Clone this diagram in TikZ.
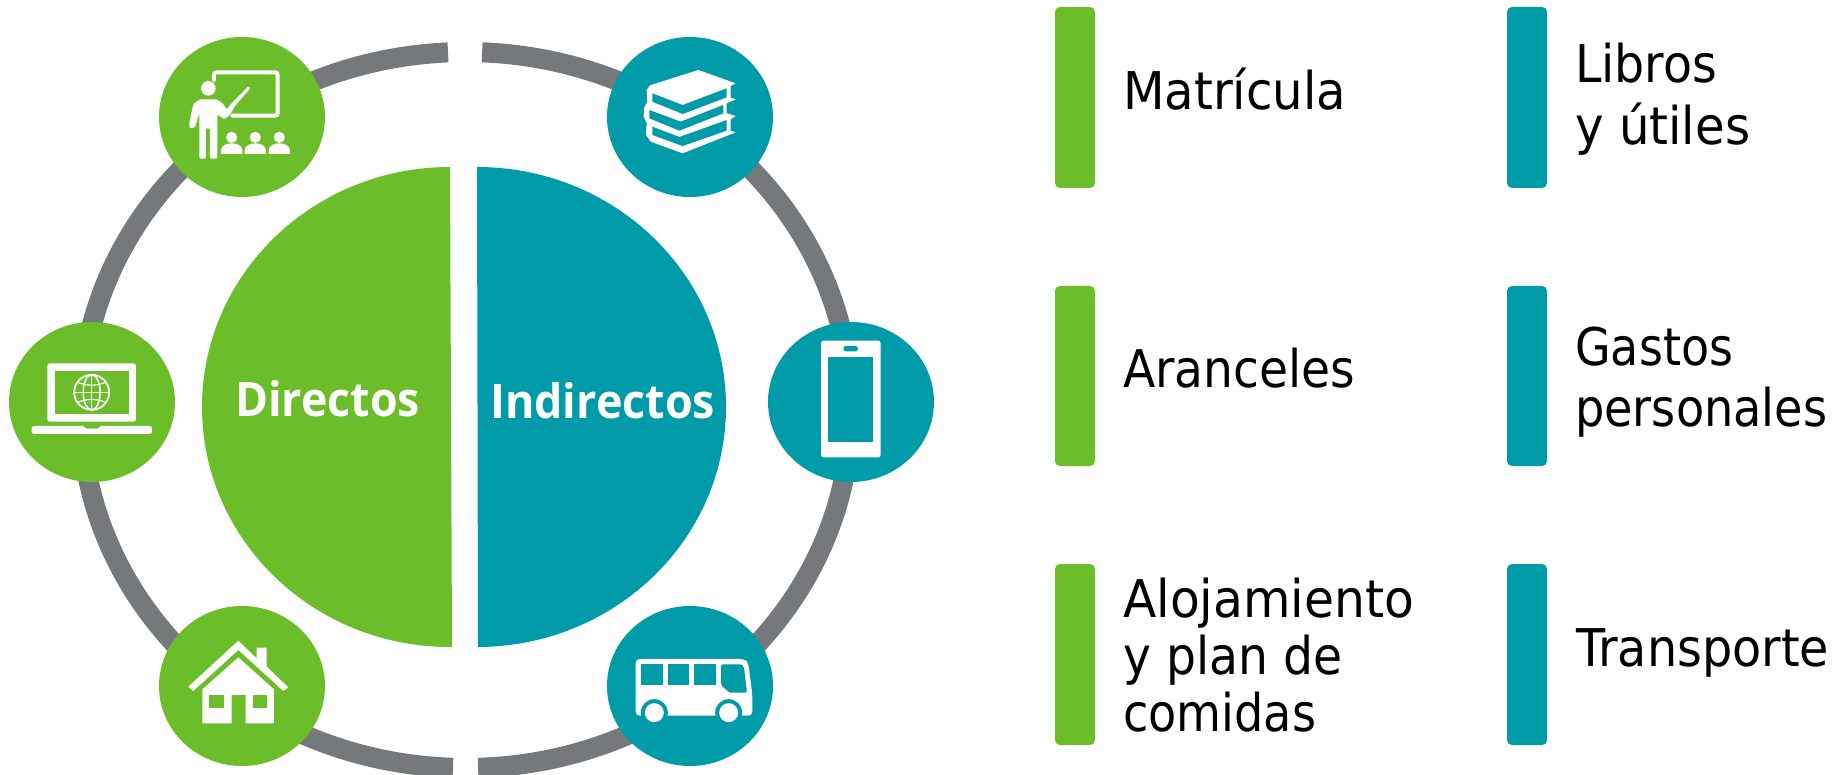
\documentclass[tikz,border=0pt]{standalone}
\usepackage{graphicx}
\usepackage{fontspec}
\setmainfont{DejaVu Sans}
\newfontfamily\headfont{Open Sans}
\definecolor{brandgreen}{RGB}{107,189,41}
\definecolor{brandteal}{RGB}{0,155,168}
\definecolor{ringgray}{RGB}{117,121,123}
\newcommand{\fitw}[2]{\resizebox{#1pt}{\height}{#2}}
\tikzset{
  ringarc/.style={draw=ringgray,line width=20pt},
  greendisc/.style={fill=brandgreen},
  tealdisc/.style={fill=brandteal},
  legendbar/.style={rounded corners=5pt},
  legendtext/.style={anchor=base west,inner sep=0pt,align=left,text=black,
    font=\fontsize{52}{62}\selectfont},
  headtext/.style={anchor=base west,inner sep=0pt,text=white,
    font=\headfont\bfseries\fontsize{47.5}{55}\selectfont},
  iconlayer/.style={x=0.33333pt,y=-0.33333pt}
}
\begin{document}
\begin{tikzpicture}[x=1pt,y=-1pt]
\clip (0,0) rectangle (1842,775);
\fill[white] (0,0) rectangle (1842,775);

% ring
\coordinate (rc) at (466,410);
\draw[ringarc] (rc) ++(92.68:385pt and 358pt) arc[start angle=92.68,end angle=268.06,x radius=385pt,y radius=358pt];
\draw[ringarc] (rc) ++(87.6:385pt and 358pt) arc[start angle=87.6,end angle=-88.2,x radius=385pt,y radius=358pt];

% half discs
\fill[brandgreen] (450,167) arc[start angle=90,end angle=270,x radius=248pt,y radius=240pt] -- ++(2,0) -- cycle;
\fill[brandteal] (477,167) arc[start angle=90,end angle=-90,x radius=249pt,y radius=240pt] -- ++(1,0) -- cycle;
\node[headtext] (directos) at (235,417) {\fitw{185}{Directos}};
\node[headtext] (indirectos) at (490,418) {\fitw{225}{Indirectos}};

% icon discs
\fill[greendisc] (242,117) ellipse [x radius=83pt,y radius=80pt];
\fill[tealdisc]  (690,117) ellipse [x radius=83pt,y radius=80pt];
\fill[greendisc] (92,402)  ellipse [x radius=83pt,y radius=80pt];
\fill[tealdisc]  (851,402) ellipse [x radius=83pt,y radius=80pt];
\fill[greendisc] (242,686) ellipse [x radius=83pt,y radius=80pt];
\fill[tealdisc]  (690,686) ellipse [x radius=83pt,y radius=80pt];

% teacher
\begin{scope}[iconlayer]
  \draw[white,line width=4pt,rounded corners=2.5pt,line cap=round] (642,240) -- (642,217) -- (833,217) -- (833,347) -- (697,347);
  \fill[white] (625,265) ellipse [x radius=7.3pt,y radius=7.3pt];
  \fill[white,rounded corners=1.2pt] (567,375) -- (580,312) -- (600,298) -- (650,298) -- (668,310) -- (680,328) -- (695,310) -- (746,258) -- (752,264) -- (705,318) -- (690,345) -- (672,358) -- (655,345) -- (652,345) -- (652,476) -- (630,476) -- (630,385) -- (618,385) -- (618,476) -- (598,476) -- (598,340) -- (585,382) -- (570,385) -- cycle;
  \foreach \dx in {0,71,143} {
    \begin{scope}[xshift=\dx*0.33333pt]
      \fill[white] (695,412) ellipse [x radius=5.6pt,y radius=5.6pt];
      \fill[white] (663,462) -- (663,452) .. controls (663,436) and (680,430) .. (695,430) .. controls (710,430) and (727,436) .. (727,452) -- (727,462) -- cycle;
    \end{scope}
  }
\end{scope}

% books
\begin{scope}[shift={(440pt,0pt)},iconlayer]
  \fill[white] (775,210) -- (887,250) -- (872,258) -- (872,293) -- (887,298) -- (860,310) -- (860,340) -- (887,348) -- (872,358) -- (872,392) -- (887,397) -- (728,460) -- (632,425) -- (618,405) -- (620,370) -- (611,350) -- (612,325) -- (622,305) -- (620,270) -- (630,256) -- cycle;
  \fill[brandteal] (637,280) -- (728,315) -- (860,265) -- (860,292) -- (728,342) -- (637,305) -- cycle;
  \fill[brandteal] (628,330) -- (722,365) -- (850,315) -- (850,340) -- (718,392) -- (628,355) -- cycle;
  \fill[brandteal] (637,380) -- (718,411) -- (860,360) -- (860,392) -- (728,438) -- (637,405) -- cycle;
\end{scope}

% laptop
\begin{scope}[shift={(0pt,-300pt)},iconlayer]
  \fill[white,rounded corners=2.5pt] (142,365) -- (142,190) -- (408,190) -- (408,365) -- cycle;
  \fill[brandgreen] (165,212) rectangle (386,341);
  \fill[white,rounded corners=2.5pt] (95,378) rectangle (456,402);
  \fill[brandgreen,rounded corners=1pt] (252,376) -- (300,376) -- (300,382) -- (290,386) -- (262,386) -- (252,382) -- cycle;
  \draw[white,line width=1.7pt] (275,277) ellipse [x radius=17.5pt,y radius=17.5pt];
  \draw[white,line width=1.4pt] (275,277) ellipse [x radius=8.5pt,y radius=17.5pt];
  \draw[white,line width=1.4pt] (275,225) -- (275,329);
  \draw[white,line width=1.4pt] (223,277) -- (327,277);
  \draw[white,line width=1.2pt] (236,248) .. controls (260,258) and (290,258) .. (314,248);
  \draw[white,line width=1.2pt] (236,306) .. controls (260,296) and (290,296) .. (314,306);
\end{scope}

% phone
\begin{scope}[shift={(440pt,-300pt)},iconlayer]
  \fill[white,rounded corners=2.5pt] (1143,122) rectangle (1322,472);
  \fill[brandteal] (1165,170) rectangle (1300,425);
  \fill[brandteal,rounded corners=2.5pt] (1210,138) rectangle (1254,154);
\end{scope}

% house
\begin{scope}[shift={(0pt,-300pt)},iconlayer]
  \fill[white] (565,1160) -- (715,1022) -- (770,1075) -- (770,1043) -- (800,1043) -- (800,1100) -- (865,1162) -- (850,1173) -- (715,1050) -- (580,1173) -- cycle;
  \fill[white] (607,1270) -- (607,1168) -- (715,1072) -- (822,1168) -- (822,1270) -- (737,1270) -- (737,1185) -- (695,1185) -- (695,1270) -- cycle;
  \fill[brandgreen] (628,1185) rectangle (672,1225);
  \fill[brandgreen] (758,1185) rectangle (802,1225);
\end{scope}

% bus
\begin{scope}[shift={(440pt,-300pt)},iconlayer]
  \fill[white,rounded corners=4pt] (587,1247) -- (587,1077) -- (915,1077) -- (925,1090) -- (937,1185) -- (937,1247) -- cycle;
  \fill[brandteal] (643,1238) ellipse [x radius=13.5pt,y radius=13.5pt];
  \fill[brandteal] (866,1238) ellipse [x radius=13.5pt,y radius=13.5pt];
  \fill[brandteal] (590,1247) rectangle (940,1275);
  \fill[white] (643,1238) ellipse [x radius=9.5pt,y radius=9.5pt];
  \fill[white] (866,1238) ellipse [x radius=9.5pt,y radius=9.5pt];
  \fill[brandteal] (603,1093) rectangle (668,1155);
  \fill[brandteal] (683,1093) rectangle (747,1155);
  \fill[brandteal] (763,1093) rectangle (827,1155);
  \fill[brandteal,rounded corners=1.5pt] (843,1093) -- (905,1093) -- (912,1102) -- (921,1178) -- (868,1178) -- (843,1155) -- cycle;
\end{scope}

% legend bars
\fill[brandgreen,legendbar] (1055,7) rectangle (1095,188);
\fill[brandgreen,legendbar] (1055,286) rectangle (1095,466);
\fill[brandgreen,legendbar] (1055,564) rectangle (1095,745);
\fill[brandteal,legendbar] (1507,7) rectangle (1547,188);
\fill[brandteal,legendbar] (1507,286) rectangle (1547,466);
\fill[brandteal,legendbar] (1507,564) rectangle (1547,745);

% legend texts
\node[legendtext] (matricula) at (1123,110) {\fitw{223}{Matrícula}};
\node[legendtext] (aranceles) at (1123,388) {\fitw{232}{Aranceles}};
\node[legendtext,font=\fontsize{52}{57}\selectfont] (alojamiento) at (1123,731) {\fitw{291}{Alojamiento}\\\fitw{219}{y plan de}\\\fitw{193}{comidas}};
\node[legendtext] (libros) at (1575,145) {\fitw{142}{Libros}\\\fitw{175}{y útiles}};
\node[legendtext] (gastos) at (1575,427) {\fitw{158}{Gastos}\\\fitw{252}{personales}};
\node[legendtext] (transporte) at (1576,666) {\fitw{253}{Transporte}};
\end{tikzpicture}
\end{document}
